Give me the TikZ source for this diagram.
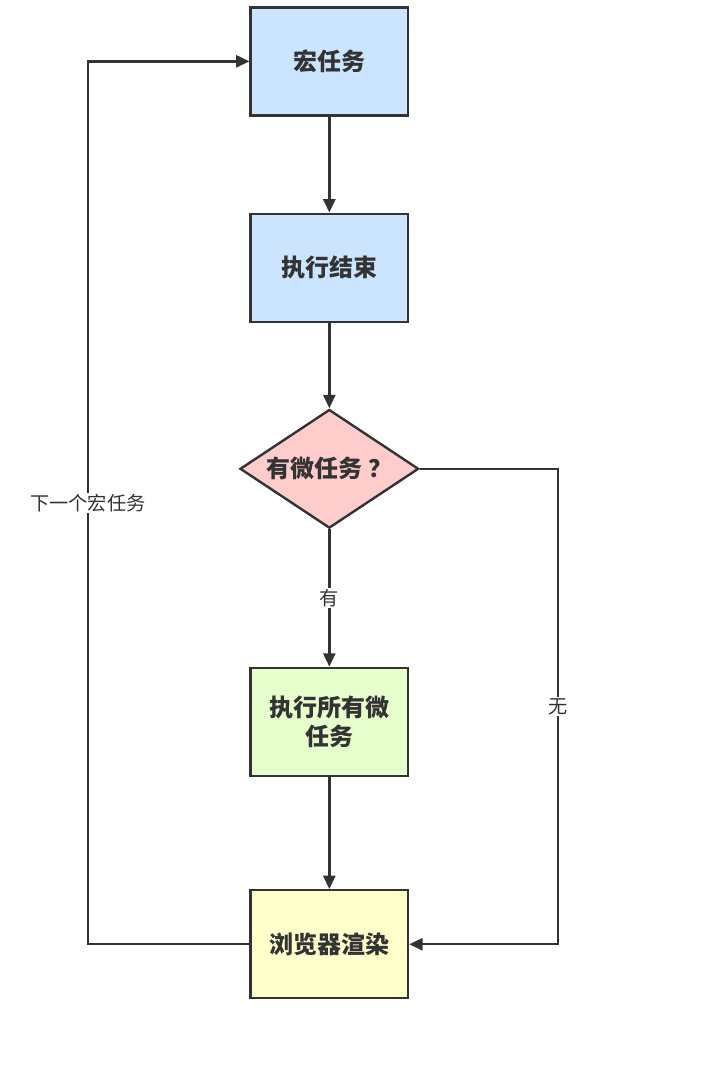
\documentclass[tikz,border=0pt]{standalone}
\usepackage{fontspec}
\setmainfont{Noto Sans CJK SC}
\usetikzlibrary{positioning,shapes.geometric,arrows.meta}

\definecolor{linegray}{HTML}{333333}
\definecolor{taskblue}{HTML}{CCE5FF}
\definecolor{checkpink}{HTML}{FFCCCC}
\definecolor{microgreen}{HTML}{E6FFCC}
\definecolor{renderyellow}{HTML}{FFFFCC}

\tikzset{
  taskbox/.style={rectangle,draw=linegray,line width=1.8pt,minimum width=118pt,
    minimum height=81pt,align=center,text=linegray,
    font=\fontsize{18}{22}\selectfont\bfseries},
  checkbox/.style={diamond,draw=linegray,line width=1.8pt,minimum width=134pt,
    minimum height=89pt,aspect=1.5,inner sep=0pt,text=linegray,
    font=\fontsize{18}{22}\selectfont\bfseries},
  flow/.style={draw=linegray,line width=1.8pt,-{Triangle[length=10pt,width=9pt]}},
  flowlabel/.style={fill=white,text=linegray,inner sep=1pt,
    font=\fontsize{14.4}{17}\selectfont}
}

\begin{document}
\begin{tikzpicture}
\useasboundingbox (0,0) rectangle (543.75pt,-812.25pt);

\node (macro) [taskbox,fill=taskblue] at (247pt,-46pt) {宏任务};
\node (done) [taskbox,fill=taskblue,below=72pt of macro] {执行结束};
\node (check) [checkbox,fill=checkpink,below=64pt of done] {有微任务 ？};
\node (micro) [taskbox,fill=microgreen,below=103pt of check] {执行所有微\\任务};
\node (render) [taskbox,fill=renderyellow,below=84pt of micro] {浏览器渲染};

\coordinate (leftturn) at (66pt,0 |- render.west);
\coordinate (rightturn) at (418.5pt,0 |- render.east);

\draw [flow] (macro) -- (done);
\draw [flow] (done) -- (check);
\draw [flow] (check) -- node [flowlabel] {有} (micro);
\draw [flow] (micro) -- (render);
\draw [flow] (check.east) -| node [flowlabel,pos=0.75] {无} (rightturn) -- (render.east);
\draw [flow] (render.west) -- (leftturn) |- node [flowlabel,pos=0.25] {下一个宏任务} (macro.west);
\end{tikzpicture}
\end{document}
